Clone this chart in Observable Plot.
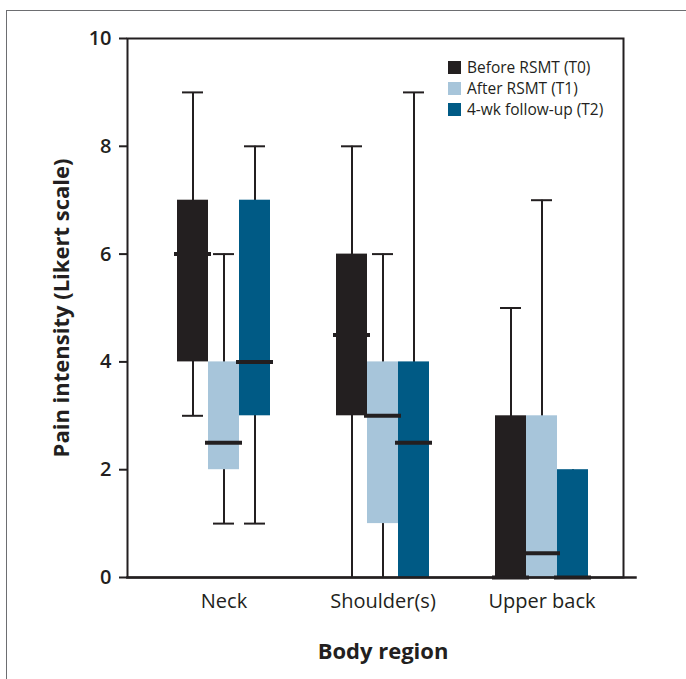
<!DOCTYPE html>
<html>
<head>
<meta charset="utf-8">
<script src="https://cdn.jsdelivr.net/npm/d3@7"></script>
<script src="https://cdn.jsdelivr.net/npm/@observablehq/plot@0.6"></script>
<style>
  body { margin: 0; background: #fff; }
  #wrap { position: relative; width: 686px; height: 679px; overflow: hidden; font-family: "Open Sans", sans-serif; }
  #border { position: absolute; left: 6px; top: 10px; width: 800px; height: 800px;
            border-left: 1.5px solid #6d6e71; border-top: 1.5px solid #6d6e71; }
  #chart { position: absolute; left: 0; top: 0; }
  #legend { position: absolute; left: 448px; top: 57px; font-size: 15.5px; color: #231f20; line-height: 21px; }
  #legend .row { white-space: nowrap; }
  #legend .sw { display: inline-block; width: 13px; height: 13px; margin-right: 6px; vertical-align: -1px; }
  g[aria-label="y-axis tick label"] { font-size: 20px; font-weight: 600; fill: #231f20; }
  g[aria-label="y-axis tick"] { stroke-width: 2; }
  g[aria-label="y-axis label"] { font-size: 22px; font-weight: 700; fill: #231f20; }
</style>
</head>
<body>
<div id="wrap">
  <div id="border"></div>
  <div id="chart"></div>
  <div id="legend"></div>
</div>
<script>
const regions = ["Neck", "Shoulder(s)", "Upper back"];
const series = ["Before RSMT (T0)", "After RSMT (T1)", "4-wk follow-up (T2)"];
const colors = ["#231f20", "#a7c5da", "#005a85"];
const yTicks = [0, 2, 4, 6, 8, 10];
const xTitle = "Body region";
const yTitle = "Pain intensity (Likert scale)";

// values per series, in region order: Neck, Shoulder(s), Upper back
const minValues    = [[3, 0, 0], [1, 0, 0],   [1, 0, 0]];
const q1Values     = [[4, 3, 0], [2, 1, 0],   [3, 0, 0]];
const medianValues = [[6, 4.5, 0], [2.5, 3, 0.45], [4, 2.5, 0]];
const q3Values     = [[7, 6, 3], [4, 4, 3],   [7, 4, 2]];
const maxValues    = [[9, 8, 5], [6, 6, 7],   [8, 9, 2]];

const rows = [];
series.forEach((s, j) => regions.forEach((r, i) => rows.push({
  region: r, series: s,
  min: minValues[j][i], q1: q1Values[j][i], median: medianValues[j][i],
  q3: q3Values[j][i], max: maxValues[j][i]
})));

const ink = "#231f20";
const chart = Plot.plot({
  width: 686, height: 679,
  marginTop: 38, marginBottom: 102, marginLeft: 127, marginRight: 82,
  style: { fontFamily: "Open Sans, sans-serif", background: "transparent", color: ink },
  fx: { domain: regions, padding: 0, axis: null },
  x: { domain: series, paddingInner: 0, paddingOuter: 1.0645, align: 0.758, axis: null },
  y: { domain: [0, 10], ticks: yTicks, tickSize: 8, tickPadding: 8,
       label: yTitle, labelAnchor: "center", labelOffset: 74, labelArrow: "none" },
  color: { domain: series, range: colors },
  marks: [
    Plot.ruleX(rows, { fx: "region", x: "series", y1: "min", y2: "max", stroke: ink, strokeWidth: 2 }),
    Plot.tickY(rows.filter(d => d.max > d.q3), { fx: "region", x: "series", y: "max", stroke: ink, strokeWidth: 2, insetLeft: 5, insetRight: 5 }),
    Plot.tickY(rows.filter(d => d.min < d.q1 && d.min > 0), { fx: "region", x: "series", y: "min", stroke: ink, strokeWidth: 2, insetLeft: 5, insetRight: 5 }),
    Plot.barY(rows, { fx: "region", x: "series", y1: "q1", y2: "q3", fill: "series" }),
    Plot.tickY(rows, { fx: "region", x: "series", y: "median", stroke: ink, strokeWidth: 4, insetLeft: -3, insetRight: -3 }),
    Plot.text(regions, { fx: d => d, x: () => series[1], text: d => d, frameAnchor: "bottom",
                         lineAnchor: "top", dy: 16, fontSize: 20, fill: ink }),
    Plot.text([xTitle], { fx: () => regions[1], x: () => series[1], text: d => d, frameAnchor: "bottom",
                          lineAnchor: "top", dy: 66, fontSize: 22, fontWeight: "bold", fill: ink }),
    Plot.frame({ facet: "super", insetRight: -19, stroke: ink, strokeWidth: 2 }),
    Plot.frame({ facet: "super", anchor: "bottom", insetRight: -31, stroke: ink, strokeWidth: 2.5 })
  ]
});
document.getElementById("chart").appendChild(chart);

const legend = document.getElementById("legend");
series.forEach((s, j) => {
  const row = document.createElement("div");
  row.className = "row";
  const sw = document.createElement("span");
  sw.className = "sw";
  sw.style.background = colors[j];
  row.appendChild(sw);
  row.appendChild(document.createTextNode(s));
  legend.appendChild(row);
});
</script>
</body>
</html>
